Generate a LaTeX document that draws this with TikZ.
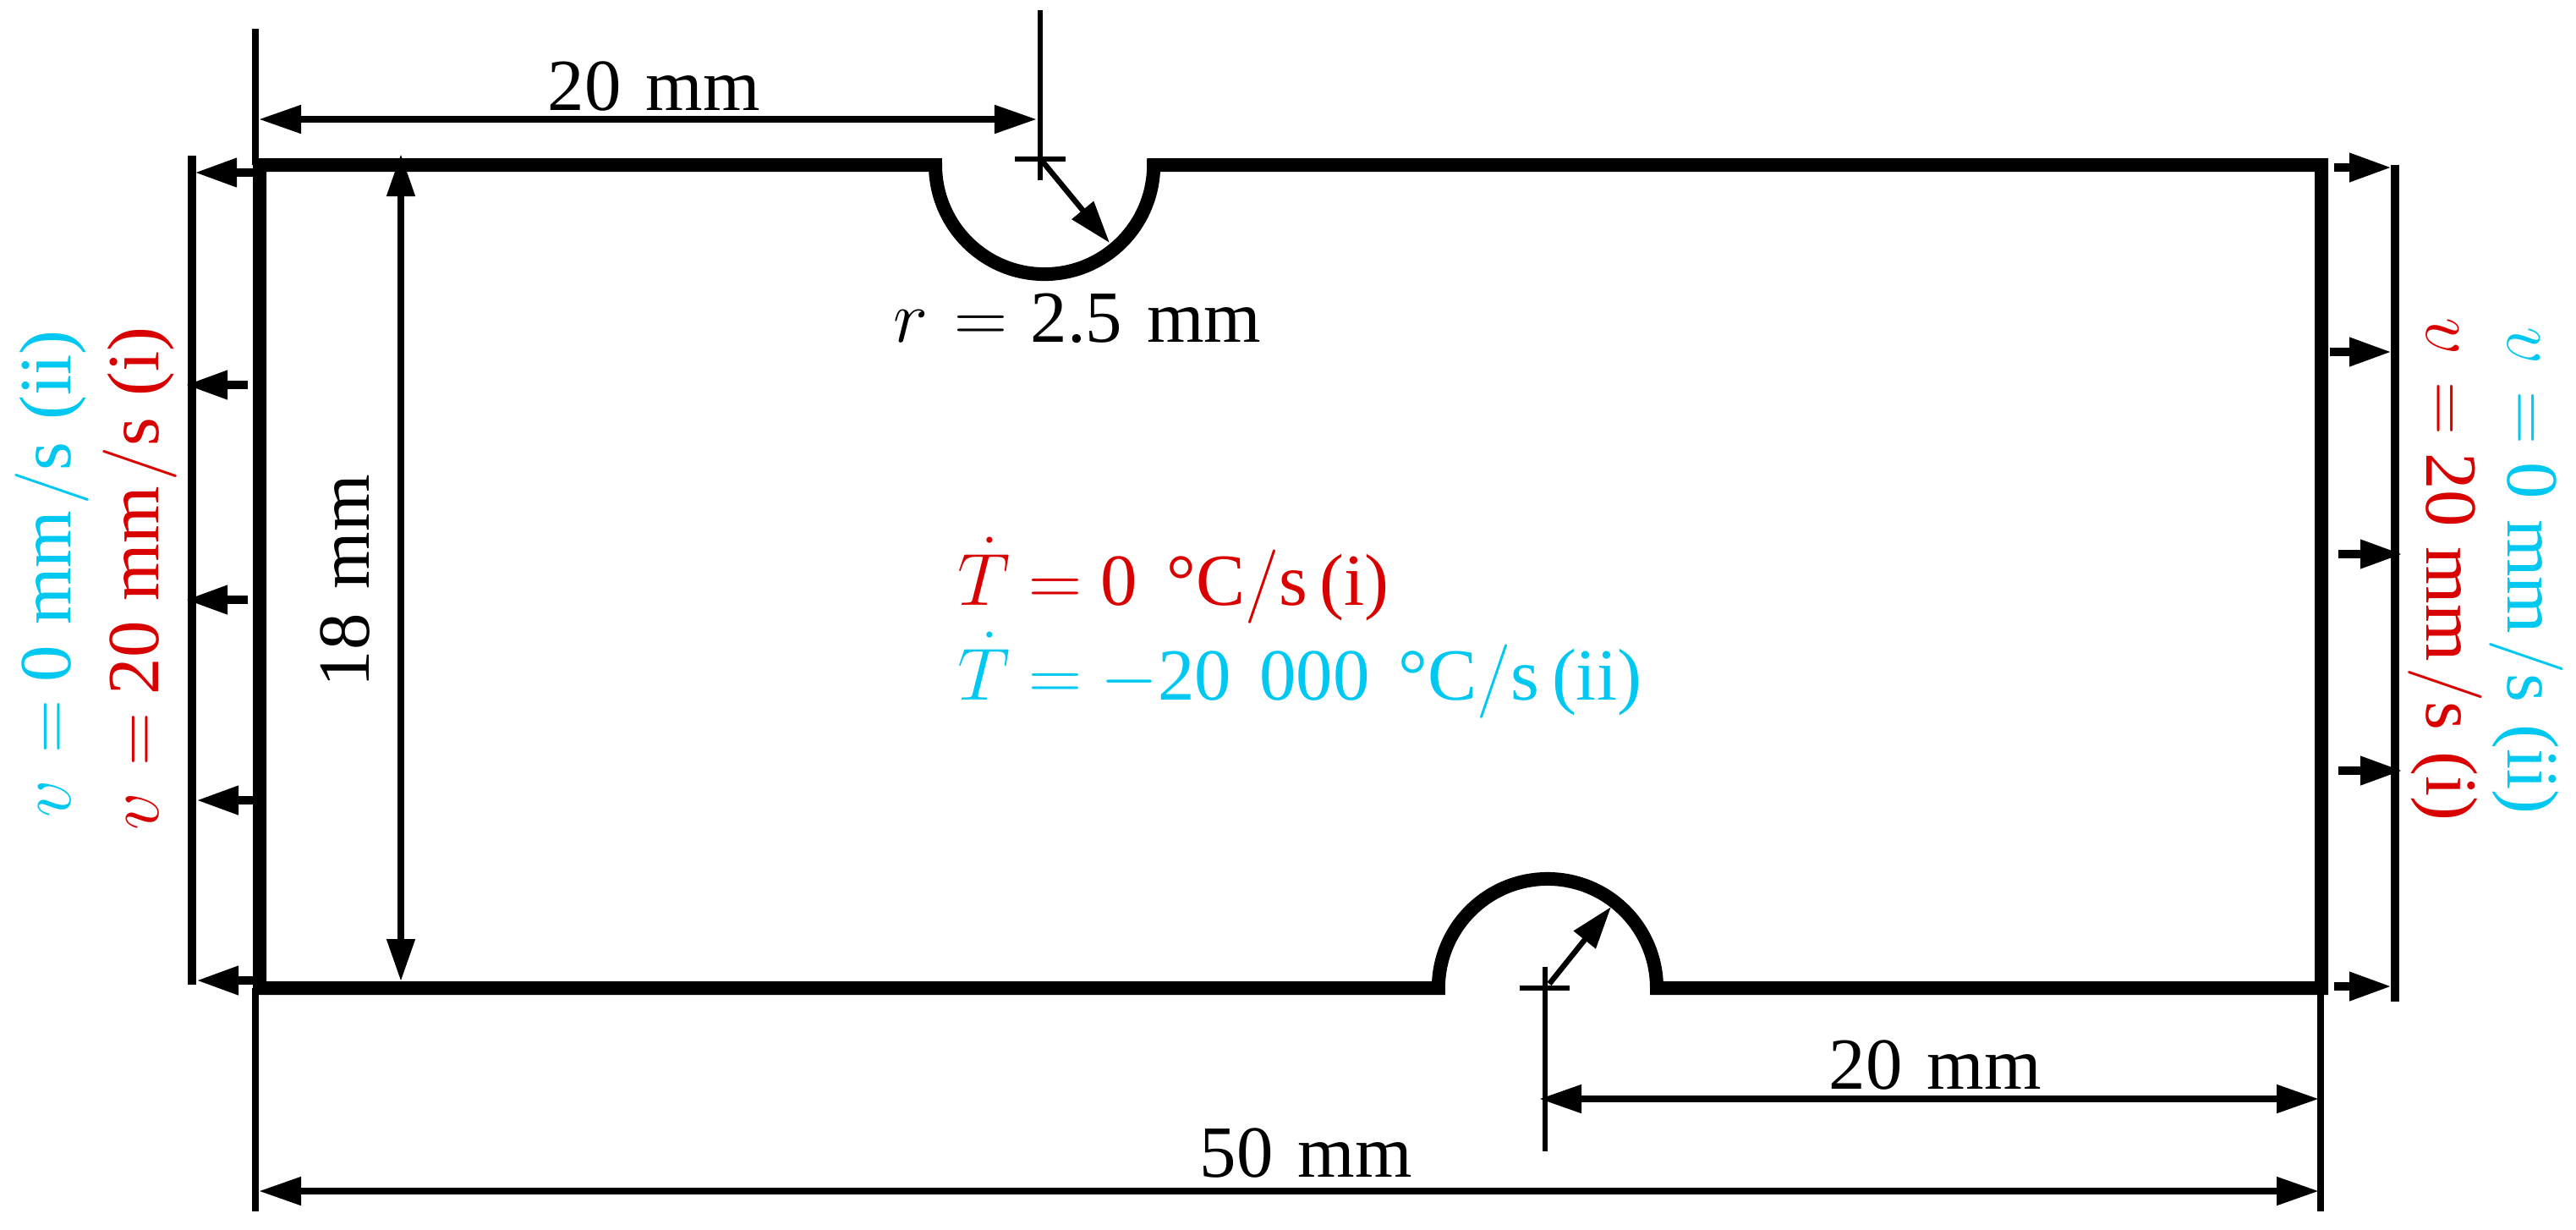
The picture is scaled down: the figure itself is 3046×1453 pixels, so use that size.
\documentclass[tikz,border=0pt]{standalone}
\usepackage{fontspec}
\setmainfont{Liberation Serif}
\usetikzlibrary{arrows.meta}
\definecolor{casered}{RGB}{217,0,0}
\definecolor{caseblue}{RGB}{0,200,240}
\tikzset{>={Triangle[length=0.5cm,width=0.32cm]},%
  plate/.style={line width=0.16cm,miter limit=10},%
  dimline/.style={line width=0.08cm},%
  thinline/.style={line width=0.065cm},%
  velline/.style={line width=0.1cm},%
  lbl/.style={font=\fontsize{24.7}{30}\selectfont,inner sep=0pt,anchor=base west}}
\newcommand{\mmtext}[1]{#1\hspace{0.29cm}mm}
\newcommand{\vtext}[2]{$v$\hspace{0.31cm}$=$ #1\hspace{0.24cm}mm\hspace{0.07cm}$/$s\hspace{0.26cm}(#2)}

\begin{document}
\begin{tikzpicture}[x=0.01cm,y=-0.01cm]
      \useasboundingbox (0,0) rectangle (3046,1453);
      % reference lines
      \draw[dimline] (302,34) -- (302,195);
      \draw[dimline] (302,1168) -- (302,1432);
      \draw[dimline] (2744,1168) -- (2744,1432);
      \draw[thinline] (1230,12) -- (1230,213);
      \draw[thinline] (1200,188) -- (1260,188);
      \draw[thinline] (1827,1143) -- (1827,1361);
      \draw[thinline] (1797,1168) -- (1856,1168);
      % plate with its two notches
      \draw[plate] (307,195) -- (1106,195)
      arc[start angle=180,end angle=360,radius=1.29cm] -- (2745,195)
      -- (2745,1168) -- (1959,1168)
      arc[start angle=0,end angle=180,radius=1.29cm] -- (307,1168) -- cycle;
      % dimensions
      \draw[dimline,<->] (306,141) -- (1226,141);
      \draw[dimline,<->] (474,182) -- (474,1160);
      \draw[dimline,<->] (1820,1299) -- (2742,1299);
      \draw[dimline,<->] (306,1408) -- (2742,1408);
      \draw[thinline,->] (1232,190) -- (1312,287);
      \draw[thinline,->] (1832,1163) -- (1905,1072);
      % velocity bars and arrows
      \draw[velline] (227,184) -- (227,1164);
      \draw[velline] (2832,195) -- (2832,1184);
      \foreach \y/\xa/\xb in {204/300/230,455/293/219,709/293/219,946/299/232,1159/299/232}
        {\draw[velline,->] (\xa,\y) -- (\xb,\y);};
      \foreach \y/\xa/\xb in {198/2760/2828,416/2755/2828,655/2765/2841,911/2765/2841,1166/2760/2828}
        {\draw[velline,->] (\xa,\y) -- (\xb,\y);};
      % labels
      \node[lbl] (topdim) at (647,130) {\mmtext{20}};
      \node[lbl] (radius) at (1056,404) {$r$\hspace{0.31cm}$=$\hspace{0.27cm}\mmtext{2.5}};
      \node[lbl,rotate=90] (heightdim) at (436,813) {\mmtext{18}};
      \node[lbl] (notchdim) at (2162,1287) {\mmtext{20}};
      \node[lbl] (lengthdim) at (1418,1391) {\mmtext{50}};
      \node[lbl,casered] (rateone) at (1132,715) {$\dot{T}$ $=$ 0\hspace{0.35cm}°C$/$s\hspace{0.14cm}(i)};
      \node[lbl,caseblue] (ratetwo) at (1132,827) {$\dot{T}$ $=$ $-$20\hspace{0.33cm}000\hspace{0.34cm}°C$/$s\hspace{0.15cm}(ii)};
      \node[lbl,rotate=90,caseblue] (leftblue) at (83,967) {\vtext{0}{ii}};
      \node[lbl,rotate=90,casered] (leftred) at (187,982) {\vtext{20}{i}};
      \node[lbl,rotate=-90,casered] (rightred) at (2869,375) {\vtext{20}{i}};
      \node[lbl,rotate=-90,caseblue] (rightblue) at (2965,386) {\vtext{0}{ii}};
    \end{tikzpicture}
\end{document}
